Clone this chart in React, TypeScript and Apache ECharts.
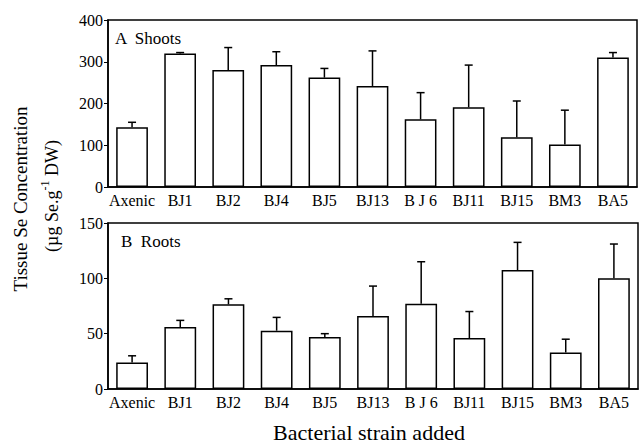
import React, { useEffect, useRef } from "react";
import * as echarts from "echarts";

const categories = ["Axenic", "BJ1", "BJ2", "BJ4", "BJ5", "BJ13", "B J 6", "BJ11", "BJ15", "BM3", "BA5"];
const shootsMean = [143, 320, 280, 292, 262, 242, 162, 191, 119, 102, 310];
const shootsErr = [12, 2, 54, 32, 22, 84, 64, 101, 87, 82, 12];
const rootsMean = [24, 56, 76.5, 52.7, 47, 66, 77, 46, 107.5, 33, 100];
const rootsErr = [6, 6, 5, 12, 3, 27, 38, 24, 25, 12, 31];
const shootsTicks = [0, 100, 200, 300, 400];
const rootsTicks = [0, 50, 100, 150];

const FONT = "'Liberation Serif', 'Times New Roman', Times, serif";

function errorRender(params: any, api: any) {
  const idx = api.value(0);
  const mean = api.value(1);
  const err = api.value(2);
  const p0 = api.coord([idx, mean]);
  const p1 = api.coord([idx, mean + err]);
  const cap = 4;
  return {
    type: "group",
    children: [
      { type: "line", shape: { x1: p0[0], y1: p0[1], x2: p1[0], y2: p1[1] }, style: { stroke: "#000", lineWidth: 1.5 } },
      { type: "line", shape: { x1: p1[0] - cap, y1: p1[1], x2: p1[0] + cap, y2: p1[1] }, style: { stroke: "#000", lineWidth: 1.5 } },
    ],
  };
}

export default function App() {
  const ref = useRef<HTMLDivElement>(null);
  useEffect(() => {
    const chart = echarts.init(ref.current!, null, { renderer: "svg" });
    const axisLabel = { color: "#000", fontFamily: FONT, fontSize: 16 };
    const xAxisBase = {
      type: "category",
      data: categories,
      axisLine: { lineStyle: { color: "#000", width: 1.5 } },
      axisTick: { alignWithLabel: true, length: 4, lineStyle: { color: "#000" } },
      axisLabel: { ...axisLabel, margin: 5, interval: 0 },
    };
    const yAxisBase = {
      type: "value",
      axisLine: { show: true, lineStyle: { color: "#000", width: 1.5 } },
      axisTick: { show: true, length: 4, lineStyle: { color: "#000" } },
      splitLine: { show: false },
      axisLabel: { ...axisLabel, margin: 5 },
    };
    const barStyle = { color: "#fff", borderColor: "#000", borderWidth: 1.5 };
    chart.setOption({
      animation: false,
      grid: [
        { left: 108, top: 20, right: 3, height: 167, show: true, borderColor: "#000", borderWidth: 1.5 },
        { left: 108, top: 223, right: 2, height: 166, show: true, borderColor: "#000", borderWidth: 1.5 },
      ],
      xAxis: [
        { ...xAxisBase, gridIndex: 0 },
        { ...xAxisBase, gridIndex: 1 },
      ],
      yAxis: [
        { ...yAxisBase, gridIndex: 0, min: shootsTicks[0], max: shootsTicks[shootsTicks.length - 1], interval: 100 },
        { ...yAxisBase, gridIndex: 1, min: rootsTicks[0], max: rootsTicks[rootsTicks.length - 1], interval: 50 },
      ],
      series: [
        { type: "bar", xAxisIndex: 0, yAxisIndex: 0, data: shootsMean, barWidth: "66%", itemStyle: barStyle, z: 2 },
        {
          type: "custom", xAxisIndex: 0, yAxisIndex: 0, renderItem: errorRender, z: 3,
          data: shootsMean.map((m, i) => [i, m, shootsErr[i]]),
        },
        { type: "bar", xAxisIndex: 1, yAxisIndex: 1, data: rootsMean, barWidth: "66%", itemStyle: barStyle, z: 2 },
        {
          type: "custom", xAxisIndex: 1, yAxisIndex: 1, renderItem: errorRender, z: 3,
          data: rootsMean.map((m, i) => [i, m, rootsErr[i]]),
        },
      ],
      graphic: [
        { type: "text", left: 115, top: 30, style: { text: "A  Shoots", fontFamily: FONT, fontSize: 17, fill: "#000" } },
        { type: "text", left: 121, top: 233, style: { text: "B  Roots", fontFamily: FONT, fontSize: 17, fill: "#000" } },
        {
          type: "text", x: 30, y: 199, rotation: Math.PI / 2,
          style: { text: "Tissue Se Concentration", fontFamily: FONT, fontSize: 19, fill: "#000", align: "center", verticalAlign: "bottom" },
        },
        {
          type: "text", x: 39, y: 196, rotation: Math.PI / 2,
          style: {
            text: "{n|(µg Se.g}{s|-1}{n| DW)}",
            align: "center", verticalAlign: "top",
            rich: {
              n: { fontFamily: FONT, fontSize: 18, fill: "#000", lineHeight: 22, verticalAlign: "bottom" },
              s: { fontFamily: FONT, fontSize: 12, fill: "#000", lineHeight: 22, verticalAlign: "top" },
            },
          },
        },
        {
          type: "text", x: 369, y: 432,
          style: { text: "Bacterial strain added", fontFamily: FONT, fontSize: 22, fill: "#000", align: "center", verticalAlign: "middle" },
        },
      ],
    });
    return () => chart.dispose();
  }, []);
  return <div ref={ref} style={{ width: 640, height: 445, position: "absolute", left: 0, top: 0 }} />;
}
